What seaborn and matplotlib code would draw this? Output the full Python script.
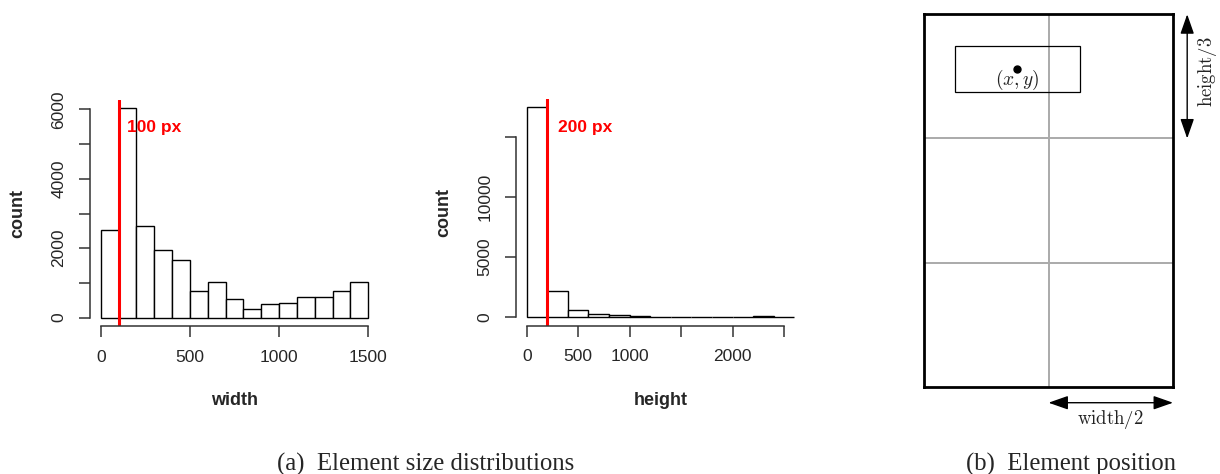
import numpy as np
import pandas as pd
import seaborn as sns
import matplotlib
matplotlib.use("Agg")
import matplotlib.pyplot as plt

# histogram of element widths (bin width 100)
width_edges = list(range(0, 1600, 100))
width_counts = [2520, 6030, 2650, 1940, 1660, 760, 1030, 550, 240, 380,
                420, 590, 590, 780, 1030]
width_cut = 100

# histogram of element heights (bin width 200)
height_edges = list(range(0, 2800, 200))
height_counts = [17450, 2200, 610, 280, 140, 60, 30, 20, 15, 10, 40, 110, 15]
height_cut = 200

# page grid used to describe element position
grid_cols = 2
grid_rows = 3
elem_box = (0.126, 0.084, 0.625, 0.209)  # x0, y0, x1, y1 as page fractions
elem_center = (0.375, 0.147)

sns.set_style("white")
plt.rcParams['font.family'] = ['Liberation Sans', 'DejaVu Sans']
plt.rcParams['mathtext.fontset'] = 'cm'

fig = plt.figure(figsize=(12.2, 4.74), dpi=100)


def r_hist(ax, edges, counts, cut, xticks, xlabels, yticks, ylabels, xlab, text_xy, ylab_x):
    df = pd.DataFrame({'left': [e + 1 for e in edges[:-1]], 'n': counts})
    sns.histplot(data=df, x='left', weights='n', bins=edges, ax=ax,
                 color='white', edgecolor='black', linewidth=1, alpha=1)
    lo, hi = edges[0], edges[-1]
    ymax = max(counts)
    ax.set_xlim(lo - 0.04 * (hi - lo), hi + 0.04 * (hi - lo))
    ax.set_ylim(-0.04 * ymax, 1.04 * ymax)
    ax.axvline(cut, color='red', linewidth=2.2)
    ax.text(text_xy[0], text_xy[1], f'{cut} px', color='red', fontweight='bold',
            fontsize=12.5, va='center', ha='left')
    for s in ['top', 'right']:
        ax.spines[s].set_visible(False)
    ax.spines['left'].set_bounds(yticks[0], yticks[-1])
    ax.spines['bottom'].set_bounds(xticks[0], xticks[-1])
    for s in ['left', 'bottom']:
        ax.spines[s].set_color('#333333')
        ax.spines[s].set_linewidth(1.1)
    ax.set_xticks(xticks)
    ax.set_xticklabels(xlabels)
    ax.set_yticks(yticks)
    ax.set_yticklabels(ylabels, rotation=90, va='center')
    ax.tick_params(axis='both', length=8, width=1.1, color='#333333',
                   labelsize=12.5, direction='out', pad=9)
    ax.tick_params(axis='both', left=True, bottom=True)
    ax.set_xlabel(xlab, fontsize=13, fontweight='bold')
    ax.set_ylabel('count', fontsize=13, fontweight='bold')
    ax.xaxis.set_label_coords(0.5, -0.292)
    ax.yaxis.set_label_coords(ylab_x, 0.5)
    ax.grid(False)


ax1 = fig.add_axes([90 / 1220, 1 - 326 / 474, 289 / 1220, 226 / 474])
r_hist(ax1, width_edges, width_counts, width_cut,
       [0, 500, 1000, 1500], ['0', '500', '1000', '1500'],
       list(range(0, 7000, 1000)), ['0', '', '2000', '', '4000', '', '6000'],
       'width', (150, 5480), -0.222)

ax2 = fig.add_axes([516 / 1220, 1 - 325.5 / 474, 289 / 1220, 226.5 / 474])
r_hist(ax2, height_edges, height_counts, height_cut,
       [0, 500, 1000, 1500, 2000, 2500], ['0', '500', '1000', '', '2000', ''],
       [0, 5000, 10000, 15000], ['0', '5000', '10000', ''],
       'height', (300, 15750), -0.222)

# page position diagram
ax3 = fig.add_axes([924 / 1220, 1 - 386.7 / 474, 249 / 1220, 372.4 / 474])
ax3.set_xlim(0, 1)
ax3.set_ylim(1, 0)
ax3.set_xticks([])
ax3.set_yticks([])
for s in ax3.spines.values():
    s.set_linewidth(2)
    s.set_color('black')
for i in range(1, grid_cols):
    ax3.axvline(i / grid_cols, color='#aaaaaa', linewidth=1.4, zorder=0)
for j in range(1, grid_rows):
    ax3.axhline(j / grid_rows, color='#aaaaaa', linewidth=1.4, zorder=0)
x0, y0, x1, y1 = elem_box
ax3.add_patch(plt.Rectangle((x0, y0), x1 - x0, y1 - y0, fill=False,
                            edgecolor='black', linewidth=0.9))
ax3.plot(elem_center[0], elem_center[1], 'o', color='black', markersize=5)
ax3.text(elem_center[0], 0.176, r'$(x,y)$', fontsize=14, ha='center',
         va='center', color='#222222')

arrow = dict(arrowstyle='<|-|>,head_length=1.0,head_width=0.35', color='black',
             linewidth=1, mutation_scale=12, shrinkA=0, shrinkB=0)
ax3.annotate('', xy=(1.057, 0), xytext=(1.057, 1 / grid_rows),
             arrowprops=arrow, annotation_clip=False)
ax3.text(1.137, 0.155, r'$\mathrm{height}/3$', rotation=90, fontsize=13.5,
         ha='center', va='center', color='#222222', clip_on=False)
ax3.annotate('', xy=(1 / grid_cols, 1.043), xytext=(1, 1.043),
             arrowprops=arrow, annotation_clip=False)
ax3.text(0.75, 1.087, r'$\mathrm{width}/2$', fontsize=13.5, ha='center',
         va='center', color='#222222', clip_on=False)

# captions
fig.text(426 / 1220, 1 - 471 / 474, '(a)  Element size distributions',
         fontsize=17.8, family=['Liberation Serif', 'DejaVu Serif'],
         ha='center', va='baseline')
fig.text(1071.5 / 1220, 1 - 471 / 474, '(b)  Element position',
         fontsize=17.8, family=['Liberation Serif', 'DejaVu Serif'],
         ha='center', va='baseline')

fig.savefig('out.png', dpi=100)
